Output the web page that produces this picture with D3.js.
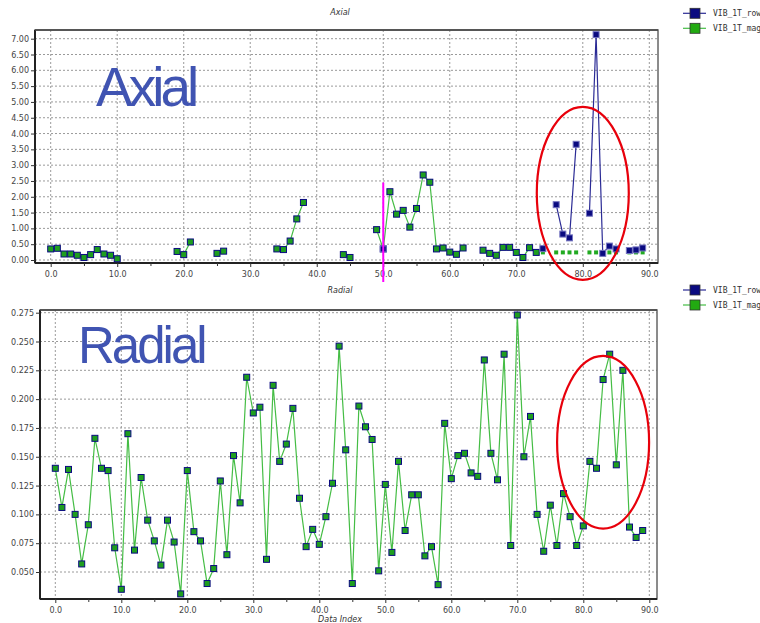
<!DOCTYPE html>
<html><head><meta charset="utf-8">
<script src="https://cdn.jsdelivr.net/npm/d3@7/dist/d3.min.js"></script>
<style>body{margin:0;background:#fff}svg{display:block}</style>
</head><body><svg id="c" width="760" height="623"></svg>
<script>
// ---------- DATA ----------
const dataIndex = d3.range(90);
const xTicks = [0,10,20,30,40,50,60,70,80,90];
const xMinorTicks = [5,15,25,35,45,55,65,75,85];
const axialYTicks = [0,0.5,1,1.5,2,2.5,3,3.5,4,4.5,5,5.5,6,6.5,7];
const radialYTicks = [0.05,0.075,0.1,0.125,0.15,0.175,0.2,0.225,0.25,0.275];
const seriesNames = ["VIB_1T_row","VIB_1T_mag"];

const N = null;
// Axial, VIB_1T_mag (green)
const axialMag = [0.35,0.37,0.19,0.19,0.15,0.08,0.17,0.33,0.19,0.15,
  0.04,N,N,N,N,N,N,N,N,0.27,
  0.17,0.57,N,N,N,0.21,0.28,N,N,N,
  N,N,N,N,0.35,0.33,0.60,1.30,1.82,N,
  N,N,N,N,0.17,0.08,N,N,N,0.96,
  0.35,2.16,1.45,1.57,1.04,1.63,2.69,2.46,0.35,0.38,
  0.25,0.18,0.38,N,N,0.31,0.21,0.15,0.40,0.40,
  0.24,0.08,0.39,0.24,N,N,N,N,N,N,
  N,N,N,N,N,N,N,N,N,N];
// Axial, VIB_1T_mag small markers (low level)
const axialMagLow = [N,N,N,N,N,N,N,N,N,N,
  N,N,N,N,N,N,N,N,N,N,
  N,N,N,N,N,N,N,N,N,N,
  N,N,N,N,N,N,N,N,N,N,
  N,N,N,N,N,N,N,N,N,N,
  N,N,N,N,N,N,N,N,N,N,
  N,N,N,N,N,N,N,N,N,N,
  N,N,N,N,0.24,N,0.24,0.24,0.24,0.24,
  N,0.24,0.24,0.24,0.24,0.24,N,0.24,0.24,0.24];
// Axial, VIB_1T_row (blue)
const axialRow = [N,N,N,N,N,N,N,N,N,N,
  N,N,N,N,N,N,N,N,N,N,
  N,N,N,N,N,N,N,N,N,N,
  N,N,N,N,N,N,N,N,N,N,
  N,N,N,N,N,N,N,N,N,N,
  0.35,N,N,N,N,N,N,N,N,N,
  N,N,N,N,N,N,N,N,N,N,
  N,N,N,N,0.36,N,1.75,0.82,0.70,3.66,
  N,1.48,7.13,0.21,0.44,0.35,N,0.30,0.32,0.38];
// Radial, VIB_1T_mag (green)
const radialMag = [0.140,0.106,0.139,0.100,0.057,0.091,0.166,0.140,0.138,0.071,
  0.035,0.170,0.069,0.132,0.095,0.077,0.056,0.095,0.076,0.031,
  0.138,0.085,0.077,0.040,0.053,0.129,0.065,0.151,0.110,0.219,
  0.188,0.193,0.061,0.212,0.146,0.161,0.192,0.114,0.072,0.087,
  0.074,0.098,0.127,0.246,0.156,0.040,0.194,0.176,0.165,0.051,
  0.126,0.067,0.146,0.086,0.117,0.117,0.064,0.072,0.039,0.179,
  0.131,0.151,0.153,0.136,0.133,0.234,0.153,0.130,0.239,0.073,
  0.273,0.150,0.185,0.100,0.068,0.108,0.073,0.118,0.098,0.073,
  0.090,0.146,0.140,0.217,0.239,0.143,0.225,0.089,0.080,0.086];

// ---------- DRAW ----------
const svg = d3.select("#c");
const GREEN_LINE = "#45bd45", GREEN_FILL = "#1e9e1e", NAVY = "#0a0a80", NAVY_LINE = "#2b2b95";
const FONT = "DejaVu Sans, Verdana, sans-serif";

function panel(p) {
  const g = svg.append("g");
  const x = d3.scaleLinear().domain([0,90]).range(p.xr);
  const y = d3.scaleLinear().domain(p.yd).range(p.yr);
  const f = p.frame;
  // grid
  g.selectAll(".gx").data(xTicks).join("line")
    .attr("x1", d=>x(d)).attr("x2", d=>x(d)).attr("y1", f.t).attr("y2", f.b)
    .attr("stroke", "#9a9a9a").attr("stroke-dasharray", "2,2").attr("stroke-width", 1);
  g.selectAll(".gy").data(p.yTicks).join("line")
    .attr("x1", f.l).attr("x2", f.r).attr("y1", d=>y(d)).attr("y2", d=>y(d))
    .attr("stroke", "#9a9a9a").attr("stroke-dasharray", "2,2").attr("stroke-width", 1);
  // frame
  g.append("rect").attr("x", f.l).attr("y", f.t).attr("width", f.r-f.l).attr("height", f.b-f.t)
    .attr("fill", "none").attr("stroke", "#666").attr("stroke-width", 1.5);
  g.append("line").attr("x1", f.l).attr("x2", f.l).attr("y1", f.t).attr("y2", f.b).attr("stroke", "#222").attr("stroke-width", 2);
  g.append("line").attr("x1", f.l).attr("x2", f.r).attr("y1", f.b).attr("y2", f.b).attr("stroke", "#222").attr("stroke-width", 2);
  g.append("line").attr("x1", f.l).attr("x2", f.r).attr("y1", f.t).attr("y2", f.t).attr("stroke", "#444").attr("stroke-width", 1.5);
  // axes
  const ax = g.append("g").attr("transform", `translate(0,${f.b})`)
    .call(d3.axisBottom(x).tickValues(xTicks).tickFormat(d3.format(".1f")).tickSize(4).tickPadding(4));
  const axm = g.append("g").attr("transform", `translate(0,${f.b})`)
    .call(d3.axisBottom(x).tickValues(xMinorTicks).tickFormat("").tickSize(3));
  const ay = g.append("g").attr("transform", `translate(${f.l},0)`)
    .call(d3.axisLeft(y).tickValues(p.yTicks).tickFormat(d3.format(p.yFmt)).tickSize(4).tickPadding(2));
  [ax, axm, ay].forEach(a => {
    a.select(".domain").remove();
    a.selectAll("line").attr("stroke", "#333");
    a.selectAll("text").attr("fill", "#444").style("font-family", FONT).style("font-size", "8px");
  });
  return {g, x, y};
}

function drawLine(P, vals, color, width) {
  const pts = dataIndex.map(i => ({i, v: vals[i]}));
  P.g.append("path").datum(pts)
    .attr("d", d3.line().defined(d => d.v != null).x(d => P.x(d.i)).y(d => P.y(d.v)))
    .attr("fill", "none").attr("stroke", color).attr("stroke-width", width);
}
function drawMarkers(P, vals, fill, stroke, size) {
  const pts = dataIndex.filter(i => vals[i] != null).map(i => ({i, v: vals[i]}));
  P.g.selectAll(null).data(pts).join("rect")
    .attr("x", d => P.x(d.i) - size/2).attr("y", d => P.y(d.v) - size/2)
    .attr("width", size).attr("height", size)
    .attr("fill", fill).attr("stroke", stroke).attr("stroke-width", stroke === "none" ? 0 : 1);
}

// ---- top: Axial ----
const A = panel({frame:{l:35,r:658,t:30,b:263}, xr:[50.7,649.3], yd:[0,7], yr:[260,38.7], yTicks:axialYTicks, yFmt:".2f"});
drawLine(A, axialMag, GREEN_LINE, 1.2);
drawMarkers(A, axialMag, GREEN_FILL, NAVY, 6);
drawMarkers(A, axialMagLow, "#22aa22", "none", 4);
drawLine(A, axialRow, NAVY_LINE, 1.2);
drawMarkers(A, axialRow, NAVY, "#7575c0", 6);
// magenta marker line at index 50
A.g.append("line").attr("x1", A.x(50)).attr("x2", A.x(50)).attr("y1", A.y(2.45)).attr("y2", 282)
  .attr("stroke", "#ff00ff").attr("stroke-width", 2);
// red ellipse
A.g.append("ellipse").attr("cx", A.x(80)).attr("cy", A.y(2.11)).attr("rx", 46).attr("ry", 86.5)
  .attr("fill", "none").attr("stroke", "#e8000b").attr("stroke-width", 2.2);

// ---- bottom: Radial ----
const R = panel({frame:{l:40,r:657,t:310,b:599}, xr:[55.3,649.3], yd:[0.05,0.275], yr:[572,312.7], yTicks:radialYTicks, yFmt:".3f"});
drawLine(R, radialMag, GREEN_LINE, 1.2);
drawMarkers(R, radialMag, GREEN_FILL, NAVY, 6);
R.g.append("ellipse").attr("cx", R.x(83)).attr("cy", R.y(0.1626)).attr("rx", 46).attr("ry", 86.3)
  .attr("fill", "none").attr("stroke", "#e8000b").attr("stroke-width", 2.2);

// ---- titles ----
const small = (t, x, y) => svg.append("text").attr("x", x).attr("y", y).attr("text-anchor", "middle")
  .style("font-family", FONT).style("font-size", "8px").style("font-style", "italic").attr("fill", "#333").text(t);
small("Axial", 340, 15);
small("Radial", 340, 293);
small("Data Index", 340, 622);

svg.append("text").attr("x", 96).attr("y", 106).style("font-family", "Liberation Sans, Arial, sans-serif")
  .style("font-size", "55px").style("letter-spacing", "-4px").attr("fill", "#4054b2").text("Axial");
svg.append("text").attr("x", 78).attr("y", 363).style("font-family", "Liberation Sans, Arial, sans-serif")
  .style("font-size", "51px").style("letter-spacing", "-3px").attr("fill", "#4054b2").text("Radial");

// ---- legends ----
function legend(y0) {
  const items = [{n: seriesNames[0], line: NAVY_LINE, fill: NAVY}, {n: seriesNames[1], line: GREEN_LINE, fill: "#22aa11"}];
  items.forEach((it, k) => {
    const cy = y0 + k * 15;
    svg.append("line").attr("x1", 683).attr("x2", 706).attr("y1", cy).attr("y2", cy).attr("stroke", it.line).attr("stroke-width", 1.2);
    svg.append("rect").attr("x", 690).attr("y", cy - 5).attr("width", 10).attr("height", 10)
      .attr("fill", it.fill).attr("stroke", "#333").attr("stroke-width", 0.8);
    svg.append("text").attr("x", 713).attr("y", cy + 3).style("font-family", "DejaVu Sans Mono, monospace")
      .style("font-size", "8px").attr("fill", "#333").text(it.n);
  });
}
legend(13.3);
legend(290);
</script>
</body></html>
